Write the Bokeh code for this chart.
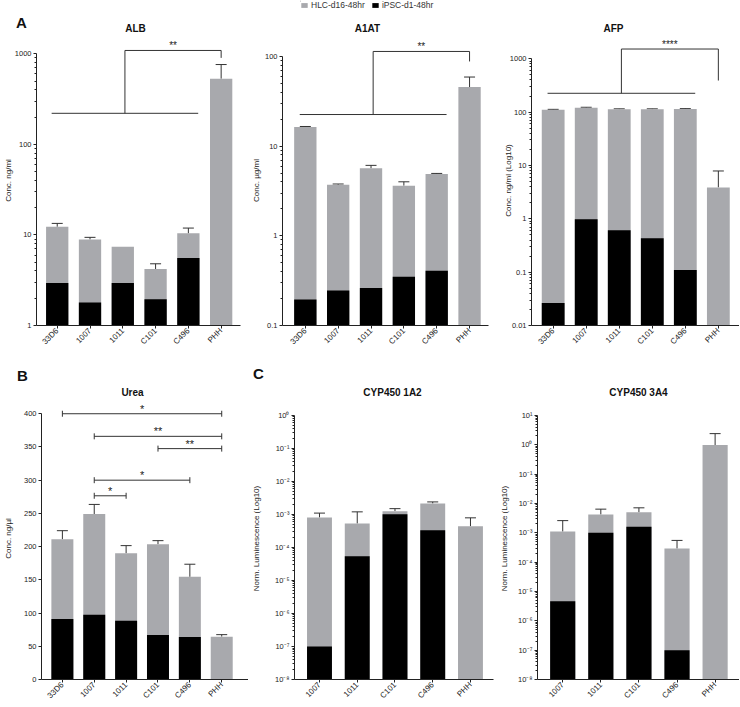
import math
from bokeh.plotting import figure
from bokeh.layouts import row, column
from bokeh.models import (ColumnDataSource, Whisker, TeeHead, FixedTicker,
                          Legend, LegendItem, Range1d)
from bokeh.core.properties import value
from bokeh.embed import file_html
from bokeh.resources import INLINE

FONT = "Liberation Sans"
GRAY = "#a8a9ad"
BLACK = "#000000"
INK = "#222222"

# ---------------- data ----------------
legend_labels = ["HLC-d16-48hr", "iPSC-d1-48hr"]
lines_top = ["33D6", "1007", "1011", "C101", "C496", "PHH"]
lines_cyp = ["1007", "1011", "C101", "C496", "PHH"]

alb_hlc = [12.3, 8.9, 7.4, 4.2, 10.4, 530.0]
alb_hlc_sd = [1.1, 0.5, 0.0, 0.6, 1.5, 230.0]
alb_ipsc = [2.95, 1.8, 2.95, 1.95, 5.55, None]

a1at_hlc = [16.3, 3.7, 5.65, 3.62, 4.9, 45.6]
a1at_hlc_sd = [0.25, 0.08, 0.45, 0.38, 0.06, 13.3]
a1at_ipsc = [0.195, 0.245, 0.262, 0.35, 0.408, None]

afp_hlc = [110.0, 120.0, 113.0, 113.0, 114.0, 3.87]
afp_hlc_sd = [2.5, 3.0, 2.0, 2.0, 2.0, 4.0]
afp_ipsc = [0.0265, 0.98, 0.61, 0.43, 0.11, None]

urea_hlc = [211.0, 249.0, 190.0, 203.5, 154.5, 64.5]
urea_hlc_sd = [13.0, 14.5, 11.5, 5.5, 19.0, 3.0]
urea_ipsc = [91.0, 97.5, 88.5, 67.0, 64.0, None]

cyp1a2_hlc = [8.1e-4, 5.3e-4, 1.26e-3, 2.15e-3, 4.4e-4]
cyp1a2_hlc_sd = [2.9e-4, 6.7e-4, 2.4e-4, 2.5e-4, 3.5e-4]
cyp1a2_ipsc = [1.0e-7, 5.4e-5, 1.02e-3, 3.3e-4, None]

cyp3a4_hlc = [1.1e-3, 4.2e-3, 5.0e-3, 2.9e-4, 0.98]
cyp3a4_hlc_sd = [1.5e-3, 2.2e-3, 2.1e-3, 2.6e-4, 1.42]
cyp3a4_ipsc = [4.6e-6, 1.0e-3, 1.6e-3, 1.0e-7, None]

alb_ticks = [1, 10, 100, 1000]
alb_tick_labels = ["1", "10", "100", "1000"]
a1at_ticks = [0.1, 1, 10, 100]
a1at_tick_labels = ["0.1", "1", "10", "100"]
afp_ticks = [0.01, 0.1, 1, 10, 100, 1000]
afp_tick_labels = ["0.01", "0.1", "1", "10", "100", "1000"]
urea_ticks = [0, 50, 100, 150, 200, 250, 300, 350, 400]
urea_tick_labels = ["0", "50", "100", "150", "200", "250", "300", "350", "400"]
cyp1a2_ticks = [1e-8, 1e-7, 1e-6, 1e-5, 1e-4, 1e-3, 1e-2, 1e-1, 1.0]
cyp1a2_tick_labels = ["10⁻⁸", "10⁻⁷", "10⁻⁶", "10⁻⁵", "10⁻⁴", "10⁻³", "10⁻²", "10⁻¹", "10⁰"]
cyp3a4_ticks = [1e-8, 1e-7, 1e-6, 1e-5, 1e-4, 1e-3, 1e-2, 1e-1, 1.0, 10.0]
cyp3a4_tick_labels = ["10⁻⁸", "10⁻⁷", "10⁻⁶", "10⁻⁵", "10⁻⁴", "10⁻³", "10⁻²", "10⁻¹", "10⁰", "10¹"]

# significance: all cell lines (group) vs PHH -> (group level, bracket top, PHH drop, stars)
alb_sig = (220.0, 1087.0, 900.0, "**")
a1at_sig = (22.5, 113.6, 87.9, "**")
afp_sig = (225.0, 1520.0, 390.0, "****")
# Urea pairwise comparisons
urea_pair_a = ["33D6", "1007", "C101", "1007", "1007"]
urea_pair_b = ["PHH", "PHH", "PHH", "C496", "1011"]
urea_pair_level = [400.0, 366.0, 347.5, 300.0, 276.5]
urea_pair_stars = ["*", "**", "**", "*", "*"]

panel_titles = ["ALB", "A1AT", "AFP", "Urea", "CYP450 1A2", "CYP450 3A4"]
panel_letters = ["A", "B", "C"]


def log_end(lo, hi, frac):
    a, b = math.log10(lo), math.log10(hi)
    return 10 ** (a + (b - a) * frac)


def log_minor(ticks):
    out = []
    for t in ticks[:-1]:
        for k in range(2, 10):
            out.append(k * t)
    return out


def header(width, height):
    """Strip above a row of charts; its coordinates are pixels from its top-left."""
    h = figure(width=width, height=height, output_backend="svg", toolbar_location=None,
               x_range=Range1d(0, width), y_range=Range1d(height, 0),
               x_axis_location=None, y_axis_location=None,
               min_border_left=0, min_border_right=0, min_border_top=0, min_border_bottom=0)
    h.outline_line_color = None
    h.xgrid.visible = False
    h.ygrid.visible = False
    h.background_fill_color = "white"
    h.border_fill_color = "white"
    return h


def head_text(h, x, y, text, size):
    h.text(x=[x], y=[y], text=[text], text_align="center", text_baseline="middle",
           text_font=value(FONT), text_font_size=size, text_font_style="bold",
           text_color="#111111")


def make_panel(cats, hlc, sd, ipsc, *, log, y0, y1, ticks, tick_labels, ylabel, ylabel_standoff,
               width, height, bl, br, bb, x0, x1, bar_w):
    p = figure(width=width, height=height, output_backend="svg", toolbar_location=None,
               x_range=Range1d(x0, x1), y_range=Range1d(y0, y1),
               y_axis_type="log" if log else "linear",
               min_border_left=bl, min_border_right=br,
               min_border_top=0, min_border_bottom=bb)
    p.outline_line_color = None
    p.xgrid.visible = False
    p.ygrid.visible = False
    p.background_fill_color = "white"
    p.border_fill_color = "white"

    idx = list(range(len(cats)))
    g_src = ColumnDataSource(dict(x=idx, top=hlc))
    p.vbar(x="x", top="top", bottom=y0, width=bar_w, source=g_src,
           fill_color=GRAY, line_color=None)
    bx = [i for i, v in zip(idx, ipsc) if v is not None]
    bv = [v for v in ipsc if v is not None]
    b_src = ColumnDataSource(dict(x=bx, top=bv))
    p.vbar(x="x", top="top", bottom=y0, width=bar_w, source=b_src,
           fill_color=BLACK, line_color=None)

    ex = [i for i, s in zip(idx, sd) if s > 0]
    et = [h for h, s in zip(hlc, sd) if s > 0]
    eu = [h + s for h, s in zip(hlc, sd) if s > 0]
    e_src = ColumnDataSource(dict(x=ex, lower=et, upper=eu))
    p.add_layout(Whisker(source=e_src, base="x", lower="lower", upper="upper",
                         line_color="#333333", line_width=1,
                         upper_head=TeeHead(size=11, line_color="#333333", line_width=1),
                         lower_head=None))

    xa = p.xaxis[0]
    xa.ticker = FixedTicker(ticks=idx)
    xa.major_label_overrides = {i: c for i, c in enumerate(cats)}
    xa.major_label_orientation = math.pi / 4
    xa.major_tick_out = 3
    xa.major_tick_in = 0
    xa.minor_tick_out = 0
    xa.minor_tick_in = 0
    xa.major_label_standoff = 1
    xa.axis_line_color = INK
    xa.major_tick_line_color = INK
    xa.major_label_text_font = FONT
    xa.major_label_text_font_size = "8px"
    xa.major_label_text_color = "#222222"

    ya = p.yaxis[0]
    ya.ticker = FixedTicker(ticks=ticks, minor_ticks=log_minor(ticks) if log else [])
    ya.major_label_overrides = dict(zip(ticks, tick_labels))
    ya.bounds = (ticks[0], ticks[-1])
    ya.major_tick_out = 3
    ya.major_tick_in = 0
    ya.minor_tick_out = 2
    ya.minor_tick_in = 0
    ya.major_label_standoff = 2
    ya.axis_line_color = INK
    ya.major_tick_line_color = INK
    ya.minor_tick_line_color = INK
    ya.major_label_text_font = FONT
    ya.major_label_text_font_size = "7.5px"
    ya.major_label_text_color = "#222222"
    ya.axis_label = ylabel
    ya.axis_label_standoff = ylabel_standoff
    ya.axis_label_text_font = FONT
    ya.axis_label_text_font_size = "8px"
    ya.axis_label_text_font_style = "normal"
    ya.axis_label_text_color = "#222222"
    return p


def group_bracket(p, sig, n, size):
    g, top, drop, stars = sig
    left, right = -0.17, (n - 2) + 0.3
    mid = (left + right) / 2
    last = n - 1
    p.multi_line(xs=[[left, right], [mid, mid, last, last]],
                 ys=[[g, g], [g, top, top, drop]], line_color="#333333", line_width=1)
    p.text(x=[(mid + last) / 2], y=[top], text=[stars], text_align="center",
           text_baseline="bottom", y_offset=1, text_font=value(FONT),
           text_font_size=size, text_color="#222222")


# ---------------- header above top row (page y 0..35) ----------------
ht1 = header(300, 35)
head_text(ht1, 21, 22, panel_letters[0], "15px")
head_text(ht1, 135, 28, panel_titles[0], "10px")

ht2 = header(439, 35)
# legend keys: one bar each, kept outside the visible strip so only the legend shows them
g_key = ht2.vbar(x=[-50], top=[1], bottom=0, width=1, fill_color=GRAY, line_color=None)
b_key = ht2.vbar(x=[-50], top=[1], bottom=0, width=1, fill_color=BLACK, line_color=None)
legend = Legend(items=[LegendItem(label=legend_labels[0], renderers=[g_key]),
                       LegendItem(label=legend_labels[1], renderers=[b_key])],
                location="top_left", orientation="horizontal",
                glyph_width=8, glyph_height=6, label_height=8, label_width=10,
                label_standoff=3, spacing=6, padding=0, margin=0,
                label_text_font=FONT, label_text_font_size="8.5px",
                label_text_color="#333333",
                border_line_color=None, background_fill_alpha=0)
ht2.add_layout(legend)
head_text(ht2, 67, 28, panel_titles[1], "10px")
head_text(ht2, 313, 28, panel_titles[2], "10px")

# ---------------- top row (frame y 35..326) ----------------
TOP_H, TOP_BB = 317, 26
top_fh = TOP_H - TOP_BB  # 291

alb = make_panel(lines_top, alb_hlc, alb_hlc_sd, alb_ipsc, log=True,
                 y0=1, y1=log_end(1, 1000, top_fh / 272.7),
                 ticks=alb_ticks, tick_labels=alb_tick_labels,
                 ylabel="Conc. ng/ml", ylabel_standoff=-1,
                 width=248, height=TOP_H, bl=30, br=8, bb=TOP_BB,
                 x0=-0.632, x1=5.59, bar_w=0.68)
group_bracket(alb, alb_sig, len(lines_top), "10px")

a1at = make_panel(lines_top, a1at_hlc, a1at_hlc_sd, a1at_ipsc, log=True,
                  y0=0.1, y1=log_end(0.1, 100, top_fh / 270.0),
                  ticks=a1at_ticks, tick_labels=a1at_tick_labels,
                  ylabel="Conc. µg/ml", ylabel_standoff=1,
                  width=252, height=TOP_H, bl=28, br=12, bb=TOP_BB,
                  x0=-0.695, x1=5.577, bar_w=0.68)
group_bracket(a1at, a1at_sig, len(lines_top), "10px")

afp = make_panel(lines_top, afp_hlc, afp_hlc_sd, afp_ipsc, log=True,
                 y0=0.01, y1=log_end(0.01, 1000, top_fh / 267.7),
                 ticks=afp_ticks, tick_labels=afp_tick_labels,
                 ylabel="Conc. ng/ml (Log10)", ylabel_standoff=-6,
                 width=239, height=TOP_H, bl=25, br=0, bb=TOP_BB,
                 x0=-0.656, x1=5.64, bar_w=0.69)
group_bracket(afp, afp_sig, len(lines_top), "10px")

# ---------------- header above bottom row (page y 352..397) ----------------
hb = header(739, 45)
head_text(hb, 22, 23, panel_letters[1], "15px")
head_text(hb, 132, 40, panel_titles[3], "10px")
head_text(hb, 258, 21, panel_letters[2], "15px")
head_text(hb, 392, 40, panel_titles[4], "10px")
head_text(hb, 638, 40, panel_titles[5], "10px")

# ---------------- bottom row (frame y 397..680) ----------------
BOT_H, BOT_BB = 309, 26
bot_fh = BOT_H - BOT_BB  # 283

urea = make_panel(lines_top, urea_hlc, urea_hlc_sd, urea_ipsc, log=False,
                  y0=0, y1=400 * bot_fh / 266.7,
                  ticks=urea_ticks, tick_labels=urea_tick_labels,
                  ylabel="Conc. ng/µl", ylabel_standoff=8,
                  width=248, height=BOT_H, bl=35, br=0, bb=BOT_BB,
                  x0=-0.655, x1=5.84, bar_w=0.69)
pos = {c: i for i, c in enumerate(lines_top)}
u_src = ColumnDataSource(dict(y=urea_pair_level,
                              x0=[pos[a] for a in urea_pair_a],
                              x1=[pos[b] for b in urea_pair_b]))
urea.add_layout(Whisker(source=u_src, base="y", lower="x0", upper="x1", dimension="width",
                        line_color="#333333", line_width=1,
                        lower_head=TeeHead(size=6, line_color="#333333", line_width=1),
                        upper_head=TeeHead(size=6, line_color="#333333", line_width=1)))
urea.text(x=[(pos[a] + pos[b]) / 2 for a, b in zip(urea_pair_a, urea_pair_b)],
          y=urea_pair_level, text=urea_pair_stars, text_align="center",
          text_baseline="bottom", y_offset=1, text_font=value(FONT),
          text_font_size="11px", text_color="#222222")

c1a2 = make_panel(lines_cyp, cyp1a2_hlc, cyp1a2_hlc_sd, cyp1a2_ipsc, log=True,
                  y0=1e-8, y1=log_end(1e-8, 1.0, bot_fh / 265.0),
                  ticks=cyp1a2_ticks, tick_labels=cyp1a2_tick_labels,
                  ylabel="Norm. Luminescence (Log10)", ylabel_standoff=11,
                  width=248, height=BOT_H, bl=42, br=3, bb=BOT_BB,
                  x0=-0.662, x1=4.61, bar_w=0.66)

c3a4 = make_panel(lines_cyp, cyp3a4_hlc, cyp3a4_hlc_sd, cyp3a4_ipsc, log=True,
                  y0=1e-8, y1=log_end(1e-8, 10.0, bot_fh / 265.0),
                  ticks=cyp3a4_ticks, tick_labels=cyp3a4_tick_labels,
                  ylabel="Norm. Luminescence (Log10)", ylabel_standoff=6,
                  width=243, height=BOT_H, bl=39, br=0, bb=BOT_BB,
                  x0=-0.662, x1=4.64, bar_w=0.66)

layout = column(row(ht1, ht2), row(alb, a1at, afp), hb, row(urea, c1a2, c3a4))
open("out.html", "w").write(file_html(layout, INLINE))
